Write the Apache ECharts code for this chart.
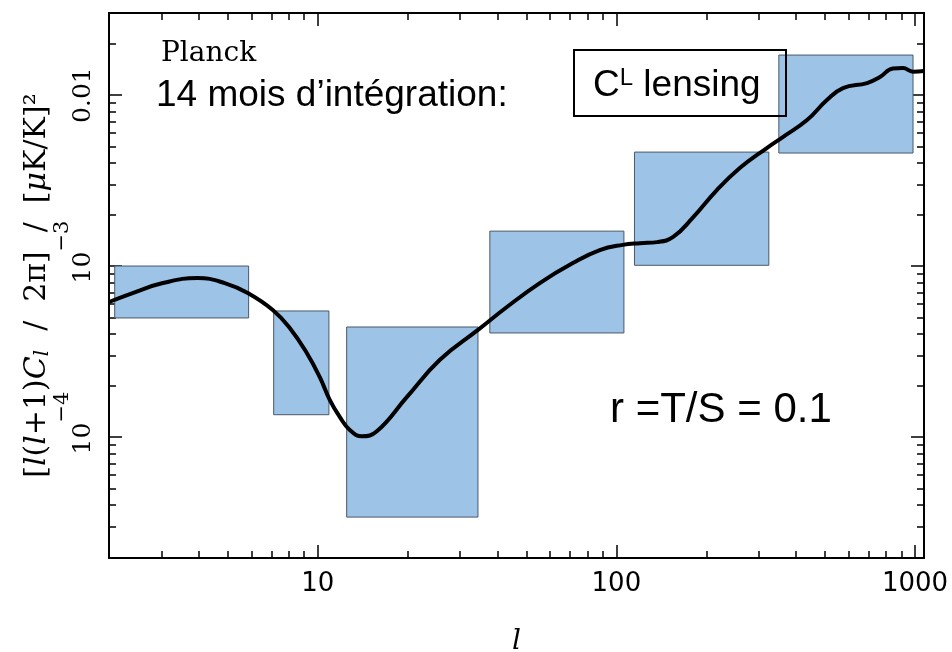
<!DOCTYPE html>
<html><head><meta charset="utf-8">
<script src="https://cdn.jsdelivr.net/npm/echarts@6/dist/echarts.min.js"></script>
<style>html,body{margin:0;padding:0;background:#fff}#c{width:952px;height:652px}</style>
</head><body><div id="c"></div>
<script>
// ---- data (multipole l, lensing B-mode power [l(l+1)C_l/2pi]/[uK/K]^2) ----
const ellValues = [2.0, 2.4, 3.03, 3.96, 4.88, 5.83, 7.07, 8.06, 9.19, 10.16, 10.97, 11.85, 12.8, 14.04, 15.77, 19.87, 25.6, 34.4, 43.0, 55.4, 71.5, 88.0, 105, 120, 137, 155, 180, 217, 259, 319, 361, 435, 507, 574, 691, 763, 844, 911, 985, 1072];
const clValues  = [6.16e-4, 6.95e-4, 7.95e-4, 8.51e-4, 7.95e-4, 6.95e-4, 5.53e-4, 4.34e-4, 3.10e-4, 2.24e-4, 1.65e-4, 1.31e-4, 1.10e-4, 1.01e-4, 1.08e-4, 1.71e-4, 2.82e-4, 4.23e-4, 5.76e-4, 7.95e-4, 1.04e-3, 1.24e-3, 1.33e-3, 1.36e-3, 1.38e-3, 1.48e-3, 1.91e-3, 2.78e-3, 3.74e-3, 4.90e-3, 5.68e-3, 7.14e-3, 9.35e-3, 0.01099, 0.01175, 0.01274, 0.01430, 0.01438, 0.01370, 0.01382];

// Planck 14-month error boxes
const binLow   = [2.09, 7.12, 12.5, 37.7, 115, 350];
const binHigh  = [5.87, 10.9, 34.4, 106, 324, 985];
const boxLow   = [4.97e-4, 1.35e-4, 3.40e-5, 4.06e-4, 1.01e-3, 4.58e-3];
const boxHigh  = [1.0e-3, 5.46e-4, 4.40e-4, 1.60e-3, 4.64e-3, 0.01714];

// axes
const xRange = [2, 1072];
const yRange = [1.96e-5, 0.0302];
const xMajorTicks = [10, 100, 1000];
const xMinorTicks = [3,4,5,6,7,8,9,20,30,40,50,60,70,80,90,200,300,400,500,600,700,800,900];
const yMajorTicks = [1e-4, 1e-3, 1e-2];
const yMinorTicks = [3e-5,4e-5,5e-5,6e-5,7e-5,8e-5,9e-5,2e-4,3e-4,4e-4,5e-4,6e-4,7e-4,8e-4,9e-4,2e-3,3e-3,4e-3,5e-3,6e-3,7e-3,8e-3,9e-3,2e-2];
const xTickLabels = {1: '10', 2: '100', 3: '1000'};
const yTickLabels = {'-4': ['10', '−4'], '-3': ['10', '−3'], '-2': ['0.01', '']};

const L = Math.log10;
const lineData = ellValues.map((l, i) => [L(l), L(clValues[i])]);
const boxData = binLow.map((b, i) => [L(b), L(binHigh[i]), L(boxLow[i]), L(boxHigh[i])]);

const AX = {color: '#000', width: 2};
const TK = {color: '#000', width: 1.5};
function xAx(pos, ticks, len, labels) {
  return {
    type: 'value', position: pos, min: L(xRange[0]), max: L(xRange[1]),
    axisLine: {show: true, onZero: false, lineStyle: AX},
    splitLine: {show: false},
    axisTick: {show: true, inside: true, length: len, customValues: ticks.map(L), lineStyle: TK},
    axisLabel: labels ? {
      show: true, customValues: ticks.map(L), margin: 13,
      fontFamily: 'DejaVu Sans', fontSize: 26, color: '#000',
      formatter: v => xTickLabels[Math.round(v)]
    } : {show: false}
  };
}
function yAx(pos, ticks, len, labels) {
  return {
    type: 'value', position: pos, min: L(yRange[0]), max: L(yRange[1]),
    axisLine: {show: true, onZero: false, lineStyle: AX},
    splitLine: {show: false},
    axisTick: {show: true, inside: true, length: len, customValues: ticks.map(L), lineStyle: TK},
    axisLabel: labels ? {
      show: true, customValues: ticks.map(L), margin: 13, rotate: 90, color: '#000',
      formatter: v => {
        const t = yTickLabels[String(Math.round(v))];
        return t[1] ? '{s| }{b|' + t[0] + '}{e|' + t[1] + '}' : '{b|' + t[0] + '}';
      },
      rich: {
        s: {width: 28, fontSize: 10},
        b: {fontFamily: 'DejaVu Serif', fontSize: 25, padding: [19, 0, 0, 0], color: '#000'},
        e: {fontFamily: 'DejaVu Serif', fontSize: 21, verticalAlign: 'top', lineHeight: 21, color: '#000'}
      }
    } : {show: false}
  };
}

const xMain = xAx('bottom', xMajorTicks, 13, true);
xMain.name = 'l';
xMain.nameLocation = 'middle';
xMain.nameGap = 70;
xMain.nameMoveOverlap = false;
xMain.nameTextStyle = {fontFamily: 'DejaVu Serif', fontStyle: 'italic', fontSize: 28, color: '#000'};

const yMain = yAx('left', yMajorTicks, 13, true);
yMain.name = '{n|[}{i|l}{n|(}{i|l}{n|+1)}{i|C}{sub|l}{sp| }{n|/}{sp| }{n|2π]}{sp| }{n|/}{sp| }{n|[}{i|μ}{n|K/K]²}';
yMain.nameLocation = 'middle';
yMain.nameGap = 56;
yMain.nameMoveOverlap = false;
yMain.nameTextStyle = {
  color: '#000',
  rich: {
    n: {fontFamily: 'DejaVu Serif', fontSize: 30, lineHeight: 32, color: '#000'},
    i: {fontFamily: 'DejaVu Serif', fontStyle: 'italic', fontSize: 30, lineHeight: 32, color: '#000'},
    sub: {fontFamily: 'DejaVu Serif', fontStyle: 'italic', fontSize: 20, lineHeight: 19, verticalAlign: 'bottom', color: '#000'},
    sp: {width: 19, fontSize: 10}
  }
};

const option = {
  animation: false,
  backgroundColor: '#fff',
  grid: {left: 109, right: 28, top: 13, bottom: 94, containLabel: false, outerBoundsMode: 'none'},
  xAxis: [xMain, xAx('bottom', xMinorTicks, 7, false), xAx('top', xMajorTicks, 13, false), xAx('top', xMinorTicks, 7, false)],
  yAxis: [yMain, yAx('left', yMinorTicks, 7, false), yAx('right', yMajorTicks, 13, false), yAx('right', yMinorTicks, 7, false)],
  series: [
    {
      type: 'custom', xAxisIndex: 0, yAxisIndex: 0, z: 2,
      encode: {x: [0, 1], y: [2, 3]},
      data: boxData,
      renderItem: (params, api) => {
        const p1 = api.coord([api.value(0), api.value(3)]);
        const p2 = api.coord([api.value(1), api.value(2)]);
        return {
          type: 'rect',
          shape: {x: p1[0], y: p1[1], width: p2[0] - p1[0], height: p2[1] - p1[1]},
          style: {fill: '#9dc3e6', stroke: '#4a5868', lineWidth: 1}
        };
      }
    },
    {
      type: 'line', xAxisIndex: 0, yAxisIndex: 0, z: 4,
      data: lineData, smooth: 0.45, showSymbol: false, symbol: 'none',
      lineStyle: {color: '#000', width: 4}
    }
  ],
  graphic: [
    {type: 'text', left: 161, top: 40, z: 10,
     style: {text: 'Planck', fontFamily: 'DejaVu Serif', fontSize: 28, fill: '#000'}},
    {type: 'text', x: 156, y: 96, z: 10,
     style: {text: '14 mois d’intégration:', fontFamily: 'Liberation Sans', fontSize: 37, fill: '#000', verticalAlign: 'middle'}},
    {type: 'rect', z: 10, shape: {x: 574, y: 50, width: 212, height: 66},
     style: {fill: 'none', stroke: '#000', lineWidth: 2}},
    {type: 'text', x: 593, y: 86, z: 10,
     style: {text: '{c|C}{u|L}{c| lensing}', verticalAlign: 'middle',
       rich: {
         c: {fontFamily: 'Liberation Sans', fontSize: 37, lineHeight: 40, fill: '#000'},
         u: {fontFamily: 'Liberation Sans', fontSize: 24, lineHeight: 26, verticalAlign: 'top', fill: '#000'}
       }}},
    {type: 'text', x: 610, y: 410, z: 10,
     style: {text: 'r =T/S = 0.1', fontFamily: 'Liberation Sans', fontSize: 42, fill: '#000', verticalAlign: 'middle'}}
  ]
};
const chart = echarts.init(document.getElementById('c'), null, {renderer: 'canvas'});
chart.setOption(option);
</script>
</body></html>
